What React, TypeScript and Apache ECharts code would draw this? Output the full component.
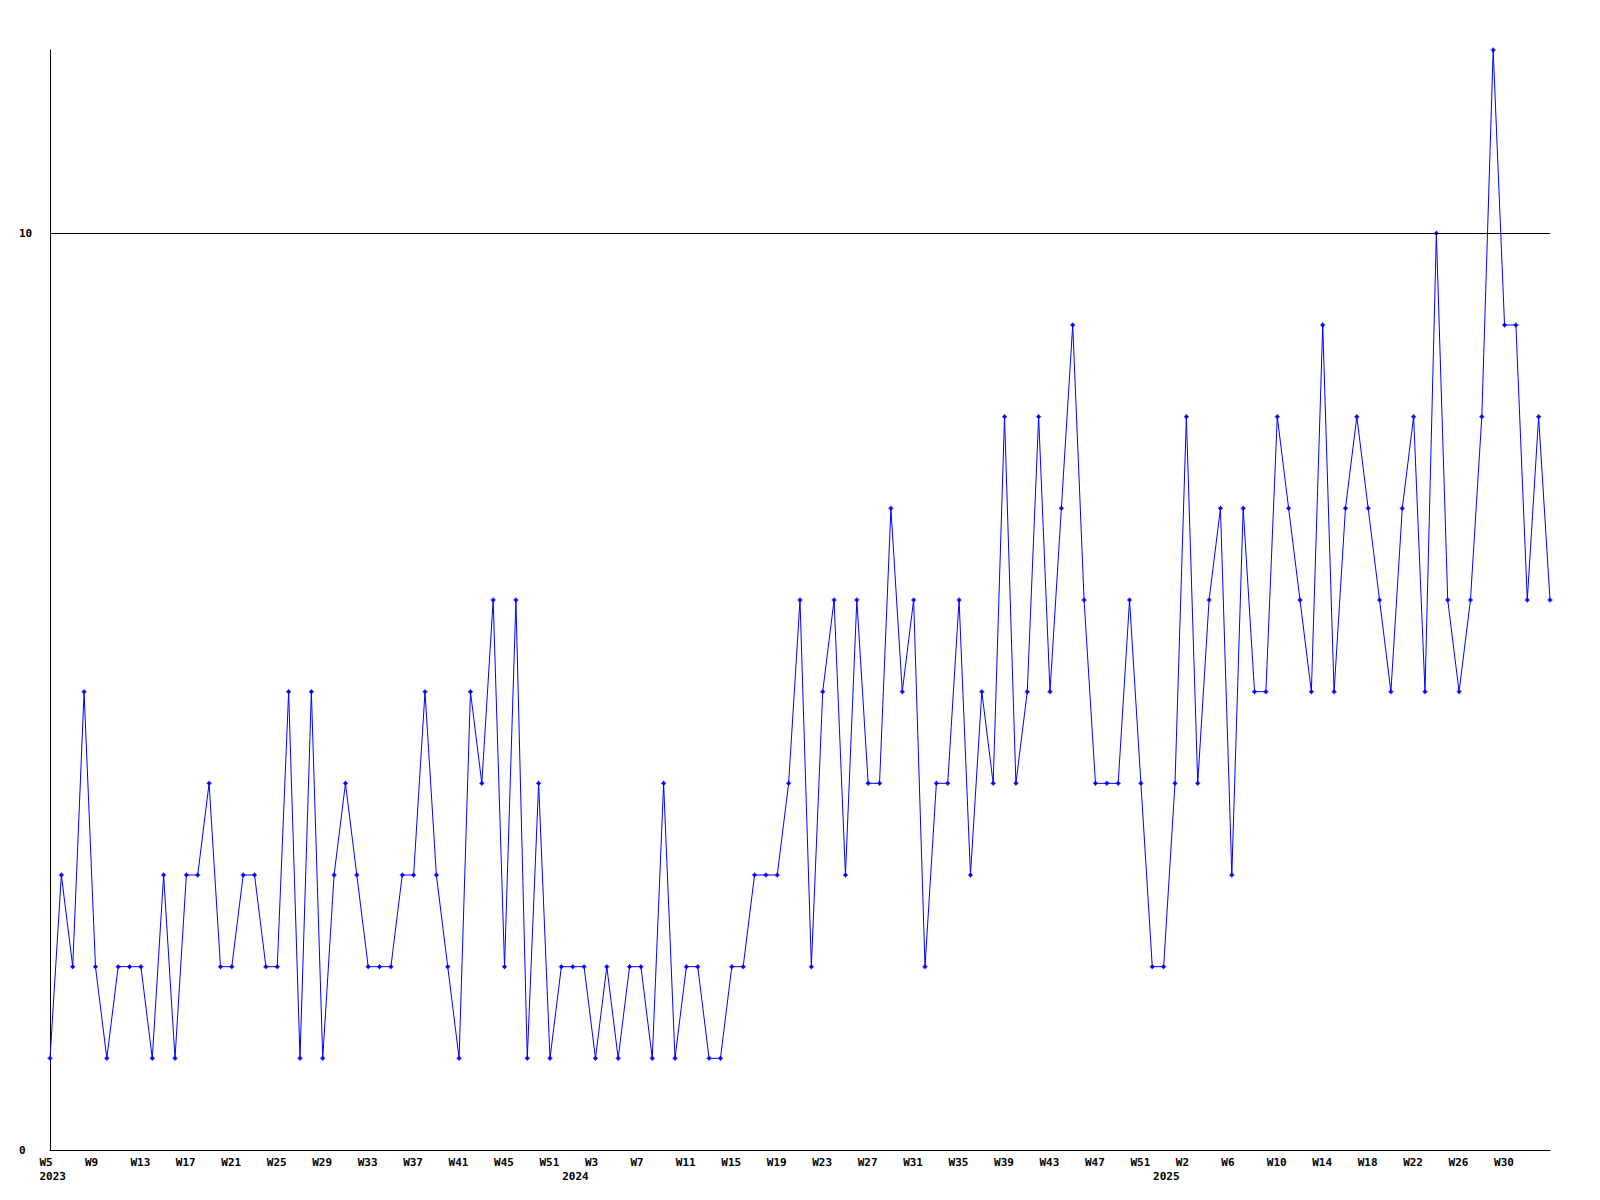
import React, { useEffect, useRef } from "react";
import * as echarts from "echarts";

// Weekly values, one per week starting 2023-W5 (133 weeks)
const values: number[] = [
  1, 3, 2, 5, 2, 1, 2, 2, 2, 1,
  3, 1, 3, 3, 4, 2, 2, 3, 3, 2,
  2, 5, 1, 5, 1, 3, 4, 3, 2, 2,
  2, 3, 3, 5, 3, 2, 1, 5, 4, 6,
  2, 6, 1, 4, 1, 2, 2, 2, 1, 2,
  1, 2, 2, 1, 4, 1, 2, 2, 1, 1,
  2, 2, 3, 3, 3, 4, 6, 2, 5, 6,
  3, 6, 4, 4, 7, 5, 6, 2, 4, 4,
  6, 3, 5, 4, 8, 4, 5, 8, 5, 7,
  9, 6, 4, 4, 4, 6, 4, 2, 2, 4,
  8, 4, 6, 7, 3, 7, 5, 5, 8, 7,
  6, 5, 9, 5, 7, 8, 7, 6, 5, 7,
  8, 5, 10, 6, 5, 6, 8, 12, 9, 9,
  6, 8, 6,
];

// Week tick labels (as printed), one every 4th point
const weekTickLabels: string[] = [
  "W5", "W9", "W13", "W17", "W21", "W25", "W29", "W33", "W37", "W41", "W45",
  "W51", "W3", "W7", "W11", "W15", "W19", "W23", "W27", "W31", "W35", "W39",
  "W43", "W47", "W51", "W2", "W6", "W10", "W14", "W18", "W22", "W26", "W30",
];
const weekTickIndex: number[] = weekTickLabels.map((_, i) => i * 4);

// Year labels and the point index where each year starts
const yearLabels: string[] = ["2023", "2024", "2025"];
const yearIndex: number[] = [0, 46, 98];

const yTickValues: number[] = [0, 10];
const yMax = 12;
const referenceLine = 10;

const FONT = "DejaVu Sans Mono";
const FONT_SIZE = 11;
const CHAR_W = FONT_SIZE * 0.602;
const GRID = { left: 50, right: 50, top: 50, bottom: 50 };
const CHART_W = 1600;
const LABEL_LEAD = 10.5; // labels start this many px left of their point

export default function App() {
  const ref = useRef<HTMLDivElement>(null);

  useEffect(() => {
    if (!ref.current) return;
    const chart = echarts.init(ref.current, undefined, { renderer: "svg" });
    const lastIndex = values.length - 1;
    const pxPerIndex = (CHART_W - GRID.left - GRID.right) / lastIndex;

    // Right-aligned labels: anchor at the text's right edge
    const anchorOf = (idx: number, text: string) =>
      idx + (text.length * CHAR_W - LABEL_LEAD) / pxPerIndex;
    const weekAnchors = weekTickIndex.map((idx, i) => anchorOf(idx, weekTickLabels[i]));
    const yearAnchors = yearIndex.map((idx, i) => anchorOf(idx, yearLabels[i]));

    const lookup = (pos: number[], labels: string[]) => (v: number) => {
      let best = 0;
      let bd = Infinity;
      pos.forEach((p, i) => {
        const d = Math.abs(p - v);
        if (d < bd) {
          bd = d;
          best = i;
        }
      });
      return labels[best];
    };

    const labelStyle = {
      fontFamily: FONT,
      fontWeight: "bold" as const,
      fontSize: FONT_SIZE,
      color: "#000",
    };

    chart.setOption({
      animation: false,
      backgroundColor: "#ffffff",
      grid: { ...GRID, containLabel: false },
      xAxis: [
        {
          type: "value",
          min: 0,
          max: lastIndex,
          axisLine: { show: true, lineStyle: { color: "#000", width: 1 } },
          axisTick: { show: false },
          splitLine: { show: false },
          axisLabel: {
            ...labelStyle,
            customValues: weekAnchors,
            formatter: lookup(weekAnchors, weekTickLabels),
            align: "right",
            verticalAlign: "top",
            margin: 7,
            hideOverlap: false,
          },
        },
        {
          type: "value",
          position: "bottom",
          offset: 14,
          min: 0,
          max: lastIndex,
          axisLine: { show: false, onZero: false },
          axisTick: { show: false },
          splitLine: { show: false },
          axisLabel: {
            ...labelStyle,
            customValues: yearAnchors,
            formatter: lookup(yearAnchors, yearLabels),
            align: "right",
            verticalAlign: "top",
            margin: 7,
            hideOverlap: false,
          },
        },
      ],
      yAxis: {
        type: "value",
        min: 0,
        max: yMax,
        interval: 10,
        axisLine: { show: true, lineStyle: { color: "#000", width: 1 } },
        axisTick: { show: false },
        splitLine: { show: false },
        axisLabel: {
          ...labelStyle,
          customValues: yTickValues,
          align: "left",
          verticalAlign: "middle",
          margin: 31,
        },
      },
      series: [
        {
          type: "line",
          xAxisIndex: 0,
          yAxisIndex: 0,
          data: values.map((v, i) => [i, v]),
          color: "#0000ff",
          lineStyle: { color: "#0000ff", width: 1 },
          itemStyle: { color: "#0000ff" },
          symbol: "path://M2,0L3,0L3,1L4,1L4,2L5,2L5,3L4,3L4,4L3,4L3,5L2,5L2,4L1,4L1,3L0,3L0,2L1,2L1,1L2,1Z",
          symbolSize: 5,
          showSymbol: true,
          showAllSymbol: true,
          clip: false,
          silent: true,
          emphasis: { disabled: true },
          markLine: {
            silent: true,
            symbol: ["none", "none"],
            label: { show: false },
            lineStyle: { color: "#000", width: 1, type: "solid" },
            emphasis: { disabled: true },
            data: [{ yAxis: referenceLine }],
          },
          z: 3,
        },
      ],
    });
    return () => chart.dispose();
  }, []);

  return (
    <div
      ref={ref}
      style={{ position: "fixed", left: 0, top: 0, width: 1600, height: 1200, background: "#fff" }}
    />
  );
}
